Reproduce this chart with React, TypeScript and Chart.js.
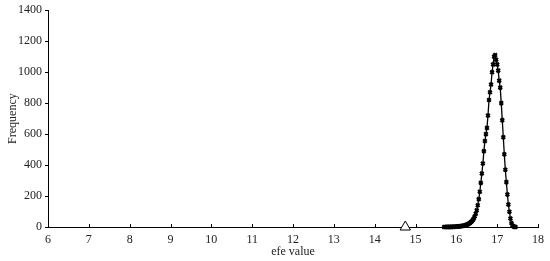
import React, { useEffect, useRef } from "react";
import { Chart, registerables } from "chart.js";
Chart.register(...registerables);

const efeValues = [
  15.7, 15.725, 15.75, 15.775, 15.8, 15.825, 15.85, 15.875, 15.9, 15.925, 15.95, 15.975,
  16.0, 16.025, 16.05, 16.075, 16.1, 16.125, 16.15, 16.175, 16.2, 16.225, 16.25, 16.275,
  16.3, 16.325, 16.35, 16.375, 16.4, 16.425, 16.45, 16.475, 16.5, 16.525, 16.55, 16.575,
  16.6, 16.625, 16.65, 16.675, 16.7, 16.725, 16.75, 16.775, 16.8, 16.825, 16.85, 16.875,
  16.9, 16.925, 16.95, 16.975, 17.0, 17.025, 17.05, 17.075, 17.1, 17.125, 17.15, 17.175,
  17.2, 17.225, 17.25, 17.275, 17.3, 17.325, 17.35, 17.375, 17.4, 17.425, 17.45,
];
const frequencies = [
  0, 0, 0, 1, 0, 1, 0, 1, 2, 1, 2, 2,
  3, 3, 4, 4, 5, 6, 7, 8, 10, 12, 14, 17,
  20, 24, 30, 36, 44, 54, 68, 85, 108, 140, 180, 228,
  285, 345, 410, 490, 555, 600, 640, 720, 820, 870, 920, 1000,
  1050, 1100, 1110, 1080, 1050, 1010, 945, 900, 800, 690, 580, 470,
  370, 290, 210, 145, 98, 55, 25, 10, 3, 1, 0,
];
const markerX = [14.75];
const markerY = [0];
const xTicks = [6, 7, 8, 9, 10, 11, 12, 13, 14, 15, 16, 17, 18];
const yTicks = [0, 200, 400, 600, 800, 1000, 1200, 1400];

const FONT = "'Liberation Serif', serif";

const inwardXTicks = {
  id: "inwardXTicks",
  afterDraw(chart: any) {
    const { ctx, scales } = chart;
    const x = scales.x;
    const yb = chart.chartArea.bottom;
    ctx.save();
    ctx.strokeStyle = "#000";
    ctx.lineWidth = 1;
    xTicks.forEach((v) => {
      const px = Math.round(x.getPixelForValue(v)) + 0.5;
      ctx.beginPath();
      ctx.moveTo(px, yb);
      ctx.lineTo(px, yb - 3);
      ctx.stroke();
    });
    ctx.restore();
  },
};

export default function App() {
  const ref = useRef<HTMLCanvasElement>(null);
  useEffect(() => {
    document.body.style.margin = "0";
    const chart = new Chart(ref.current!, {
      type: "line",
      data: {
        datasets: [
          {
            data: efeValues.map((x, i) => ({ x, y: frequencies[i] })),
            borderColor: "#000",
            backgroundColor: "#000",
            borderWidth: 1.3,
            pointStyle: "crossRot",
            pointRadius: 2.5,
            pointBorderWidth: 2.2,
            pointBorderColor: "#000",
            tension: 0,
            clip: false as any,
          },
          {
            data: markerX.map((x, i) => ({ x, y: markerY[i] })),
            showLine: false,
            pointStyle: "triangle",
            pointRadius: 6,
            pointBorderWidth: 1,
            pointBorderColor: "#000",
            pointBackgroundColor: "#fff",
            clip: false as any,
          },
        ],
      },
      options: {
        animation: false,
        responsive: false,
        maintainAspectRatio: false,
        layout: { padding: { top: 10, right: 11, left: 0, bottom: 0 } },
        plugins: { legend: { display: false }, tooltip: { enabled: false } },
        scales: {
          x: {
            type: "linear",
            min: 6,
            max: 18,
            afterBuildTicks: (s: any) => {
              s.ticks = xTicks.map((v) => ({ value: v }));
            },
            afterFit: (s: any) => {
              s.height = 34;
            },
            grid: { display: false, drawTicks: false },
            border: { display: true, color: "#000", width: 1 },
            ticks: {
              color: "#222",
              font: { family: FONT, size: 12 },
              padding: 6,
              maxRotation: 0,
              autoSkip: false,
              callback: (v: any) => String(v),
            },
            title: {
              display: true,
              text: "efe value",
              color: "#222",
              font: { family: FONT, size: 12 },
              padding: { top: 0, bottom: 2 },
            },
          },
          y: {
            type: "linear",
            min: 0,
            max: 1400,
            afterBuildTicks: (s: any) => {
              s.ticks = yTicks.map((v) => ({ value: v }));
            },
            afterFit: (s: any) => {
              s.width = 48;
            },
            grid: {
              display: true,
              drawOnChartArea: false,
              drawTicks: true,
              tickLength: 3,
              color: "#000",
            },
            border: { display: true, color: "#000", width: 1 },
            ticks: {
              color: "#222",
              font: { family: FONT, size: 12 },
              padding: 3,
              callback: (v: any) => String(v),
            },
            title: {
              display: true,
              text: "Frequency",
              color: "#222",
              font: { family: FONT, size: 12 },
              padding: { top: 6, bottom: 0 },
            },
          },
        },
      },
      plugins: [inwardXTicks],
    });
    return () => chart.destroy();
  }, []);
  return <canvas ref={ref} width={550} height={261} style={{ display: "block" }} />;
}
